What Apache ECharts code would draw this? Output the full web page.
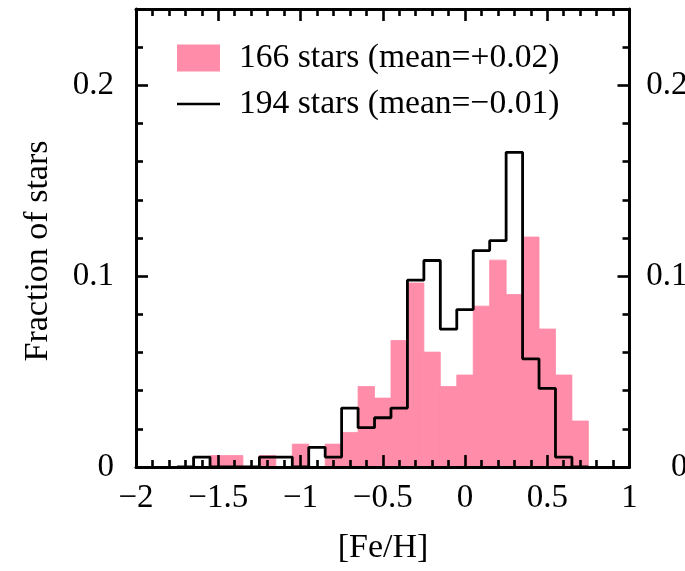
<!DOCTYPE html>
<html><head><meta charset="utf-8">
<script src="https://cdn.jsdelivr.net/npm/echarts@6/dist/echarts.min.js"></script>
<style>html,body{margin:0;padding:0;background:#fff}#c{width:685px;height:571px}</style>
</head><body><div id="c"></div>
<script>
// Histogram bin centres ([Fe/H]) and fractions of stars per bin
const binCenters = [-1.7,-1.6,-1.5,-1.4,-1.3,-1.2,-1.1,-1.0,-0.9,-0.8,-0.7,-0.6,-0.5,-0.4,-0.3,-0.2,-0.1,0.0,0.1,0.2,0.3,0.4,0.5,0.6,0.7];
const pinkFrac  = [0,0,0.0060,0.0060,0,0.0060,0,0.0120,0,0.0120,0.0181,0.0422,0.0361,0.0663,0.0964,0.0602,0.0422,0.0482,0.0843,0.1084,0.0904,0.1205,0.0723,0.0482,0.0241];
const blackFrac = [0,0.0052,0,0,0,0.0052,0.0052,0,0.0103,0.0052,0.0309,0.0206,0.0258,0.0309,0.0979,0.1082,0.0722,0.0825,0.1134,0.1186,0.1649,0.0567,0.0412,0.0052,0];
const binWidth = 0.1;
const seriesNames = ['166 stars (mean=+0.02)', '194 stars (mean=\u22120.01)'];
const xTicks = [-2, -1.5, -1, -0.5, 0, 0.5, 1];
const yTicks = [0, 0.1, 0.2];

const FONT = 'Liberation Serif, Times New Roman, serif';
const PINK = '#ff8ca8';

const chart = echarts.init(document.getElementById('c'), null, {renderer: 'canvas'});

const last = binCenters.length - 1;
const stepData = [[binCenters[0] - binWidth / 2, 0]];
binCenters.forEach((c, i) => stepData.push([c - binWidth / 2, blackFrac[i]]));
stepData.push([binCenters[last] + binWidth / 2, blackFrac[last]]);
stepData.push([binCenters[last] + binWidth / 2, 0]);

function fmt(v) { return (v < 0 ? '\u2212' : '') + String(Math.abs(v)); }

const axisCommon = {
  axisLine: {show: true, onZero: false, lineStyle: {color: '#000', width: 3}},
  axisTick: {show: true, inside: true, length: 12, lineStyle: {color: '#000', width: 2.6}},
  minorTick: {show: true, splitNumber: 5, length: 7, lineStyle: {color: '#000', width: 2.6}},
  splitLine: {show: false},
  minorSplitLine: {show: false},
  z: 5
};

const option = {
  animation: false,
  backgroundColor: '#fff',
  grid: {left: 136, right: 55.5, top: 9, bottom: 104, containLabel: false, outerBoundsMode: 'none'},
  xAxis: [
    Object.assign({type: 'value', min: xTicks[0], max: xTicks[xTicks.length - 1], interval: 0.5, position: 'bottom',
      axisLabel: {fontFamily: FONT, fontSize: 33, color: '#000', margin: 15, formatter: fmt}}, axisCommon),
    Object.assign({type: 'value', min: xTicks[0], max: xTicks[xTicks.length - 1], interval: 0.5, position: 'top',
      axisLabel: {show: false}}, axisCommon)
  ],
  yAxis: [
    Object.assign({type: 'value', min: yTicks[0], max: 0.24, interval: 0.1, position: 'left',
      axisLabel: {fontFamily: FONT, fontSize: 33, color: '#000', margin: 22, showMaxLabel: false, padding: [0, 0, 6, 0]}}, axisCommon),
    Object.assign({type: 'value', min: yTicks[0], max: 0.24, interval: 0.1, position: 'right',
      axisLabel: {fontFamily: FONT, fontSize: 33, color: '#000', margin: 58, align: 'right', showMaxLabel: false, padding: [0, 0, 6, 0]}}, axisCommon)
  ],
  legend: [
    {data: [{name: seriesNames[0], icon: 'rect'}], left: 172, top: 36, itemWidth: 43, itemHeight: 27,
      selectedMode: false, textStyle: {fontFamily: FONT, fontSize: 33.6, color: '#000', padding: [0, 0, 0, 14]}},
    {data: [{name: seriesNames[1], icon: 'rect'}], left: 172, top: 82, itemWidth: 43, itemHeight: 2.6,
      selectedMode: false, textStyle: {fontFamily: FONT, fontSize: 33.6, color: '#000', padding: [0, 0, 0, 14]}}
  ],
  graphic: [
    {type: 'text', x: 38, y: 251, rotation: Math.PI / 2,
      style: {text: 'Fraction of stars', font: '34px ' + FONT, fill: '#000', align: 'center', verticalAlign: 'middle'}},
    {type: 'text', x: 383, y: 548,
      style: {text: '[Fe/H]', font: '34px ' + FONT, fill: '#000', align: 'center', verticalAlign: 'middle'}}
  ],
  series: [
    {
      name: seriesNames[0], type: 'custom', xAxisIndex: 0, yAxisIndex: 0,
      itemStyle: {color: PINK},
      encode: {x: 0, y: 1},
      data: binCenters.map((c, i) => [c, pinkFrac[i]]),
      renderItem: function (params, api) {
        const c = api.value(0), v = api.value(1);
        const p0 = api.coord([c - binWidth / 2, 0]);
        const p1 = api.coord([c + binWidth / 2, v]);
        return {type: 'rect', shape: {x: p0[0], y: p1[1], width: p1[0] - p0[0], height: p0[1] - p1[1]},
          style: {fill: PINK, stroke: v > 0 ? PINK : null, lineWidth: 0.8}};
      },
      z: 2
    },
    {
      name: seriesNames[1], type: 'line', step: 'end', symbol: 'none', showSymbol: false,
      xAxisIndex: 0, yAxisIndex: 0,
      data: stepData,
      lineStyle: {color: '#000', width: 2.8},
      itemStyle: {color: '#000'},
      z: 3
    }
  ]
};
chart.setOption(option);
</script>
</body></html>
